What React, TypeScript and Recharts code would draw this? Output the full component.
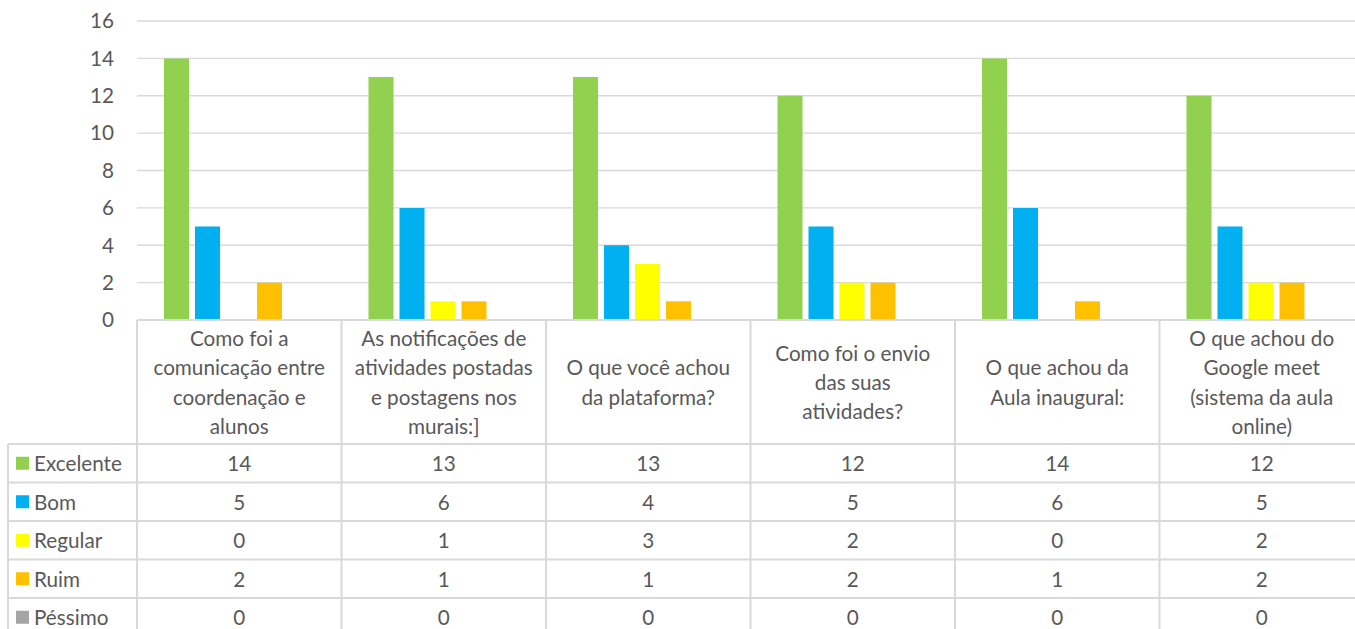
import React from 'react';
import { BarChart, Bar, XAxis, YAxis, CartesianGrid } from 'recharts';

const categories = [
  'Como foi a comunicação entre coordenação e alunos',
  'As notificações de atividades postadas e postagens nos murais:]',
  'O que você achou da plataforma?',
  'Como foi o envio das suas atividades?',
  'O que achou da Aula inaugural:',
  'O que achou do Google meet (sistema da aula online)',
];
const categoryLines = [
  ['Como foi a', 'comunicação entre', 'coordenação e', 'alunos'],
  ['As notificações de', 'atividades postadas', 'e postagens nos', 'murais:]'],
  ['O que você achou', 'da plataforma?'],
  ['Como foi o envio', 'das suas', 'atividades?'],
  ['O que achou da', 'Aula inaugural:'],
  ['O que achou do', 'Google meet', '(sistema da aula', 'online)'],
];
const excelente = [14, 13, 13, 12, 14, 12];
const bom = [5, 6, 4, 5, 6, 5];
const regular = [0, 1, 3, 2, 0, 2];
const ruim = [2, 1, 1, 2, 1, 2];
const pessimo = [0, 0, 0, 0, 0, 0];
const seriesNames = ['Excelente', 'Bom', 'Regular', 'Ruim', 'Péssimo'];
const seriesColors = ['#92D050', '#00B0F0', '#FFFF00', '#FFC000', '#A5A5A5'];
const seriesValues = [excelente, bom, regular, ruim, pessimo];
const yTicks = [0, 2, 4, 6, 8, 10, 12, 14, 16];

const data = categories.map((c, i) => {
  const row: Record<string, any> = { name: c, idx: i };
  seriesNames.forEach((s, k) => {
    row[s] = seriesValues[k][i];
  });
  return row;
});

const CHART_W = 1365;
const CHART_H = 640;
const Y_AXIS_W = 137;
const MARGIN = { top: 21, right: 1, left: 0, bottom: 0 };
const X_AXIS_H = 320;
const HEADER_H = 124;
const ROW_H = 38.5;
const LEFT_COL_W = 129;
const FONT = 'Lato, "Open Sans", sans-serif';
const FONT_SIZE = 20.7;
const LINE_H = 29.4;
const TEXT_COLOR = '#595959';
const BORDER = '#D9D9D9';

const TableTick = (props: any) => {
  const { x, y, payload, index } = props;
  const band = (CHART_W - Y_AXIS_W - MARGIN.left - MARGIN.right) / categories.length;
  const half = payload && payload.offset ? payload.offset : band / 2;
  const i = typeof index === 'number' ? index : data.findIndex((d) => d.name === payload.value);
  const left = x - half;
  const right = x + half;
  const lines = categoryLines[i] || [];
  const headerMid = y + HEADER_H / 2;
  const firstLineY = headerMid - ((lines.length - 1) * LINE_H) / 2;
  const elems: any[] = [];
  elems.push(<line key="vl" x1={left} y1={y} x2={left} y2={CHART_H} stroke={BORDER} strokeWidth={2} />);
  if (i === categories.length - 1) {
    elems.push(<line key="vr" x1={right} y1={y} x2={right} y2={CHART_H} stroke={BORDER} strokeWidth={2} />);
  }
  lines.forEach((ln, k) => {
    elems.push(
      <text key={'h' + k} x={x} y={firstLineY + k * LINE_H} textAnchor="middle" dominantBaseline="central"
        fontFamily={FONT} fontSize={FONT_SIZE} fill={TEXT_COLOR}>{ln}</text>
    );
  });
  seriesNames.forEach((s, r) => {
    const top = y + HEADER_H + r * ROW_H;
    elems.push(<line key={'hl' + r} x1={left} y1={top} x2={right} y2={top} stroke={BORDER} strokeWidth={2} />);
    elems.push(
      <text key={'v' + r} x={x} y={top + ROW_H / 2} textAnchor="middle" dominantBaseline="central"
        fontFamily={FONT} fontSize={FONT_SIZE} fill={TEXT_COLOR}>{seriesValues[r][i]}</text>
    );
    if (i === 0) {
      const lx = left - LEFT_COL_W;
      elems.push(<line key={'ll' + r} x1={lx} y1={top} x2={left} y2={top} stroke={BORDER} strokeWidth={2} />);
      elems.push(<rect key={'sq' + r} x={lx + 8} y={top + ROW_H / 2 - 6.5} width={13} height={13} fill={seriesColors[r]} />);
      elems.push(
        <text key={'n' + r} x={lx + 26} y={top + ROW_H / 2} textAnchor="start" dominantBaseline="central"
          fontFamily={FONT} fontSize={FONT_SIZE} fill={TEXT_COLOR}>{s}</text>
      );
    }
  });
  if (i === 0) {
    const lx = left - LEFT_COL_W;
    elems.push(<line key="lv" x1={lx} y1={y + HEADER_H} x2={lx} y2={CHART_H} stroke={BORDER} strokeWidth={2} />);
  }
  return <g>{elems}</g>;
};

export default function App() {
  return (
    <div style={{ position: 'fixed', left: 0, top: 0, width: 1355, height: 629, overflow: 'hidden', background: '#fff' }}>
      <BarChart width={CHART_W} height={CHART_H} data={data} margin={MARGIN} barGap={6} barCategoryGap={27}>
        <CartesianGrid vertical={false} stroke={BORDER} strokeWidth={1.3} />
        <XAxis dataKey="name" height={X_AXIS_H} axisLine={{ stroke: BORDER, strokeWidth: 2 }} tickLine={false}
          tickSize={0} tickMargin={0} interval={0} tick={<TableTick />} />
        <YAxis width={Y_AXIS_W} domain={[0, 16]} ticks={yTicks} axisLine={false} tickLine={false} tickSize={0}
          tickMargin={23} tick={{ fill: TEXT_COLOR, fontSize: FONT_SIZE, fontFamily: FONT }} />
        {seriesNames.map((s, k) => (
          <Bar key={s} dataKey={s} fill={seriesColors[k]} isAnimationActive={false} />
        ))}
      </BarChart>
    </div>
  );
}
